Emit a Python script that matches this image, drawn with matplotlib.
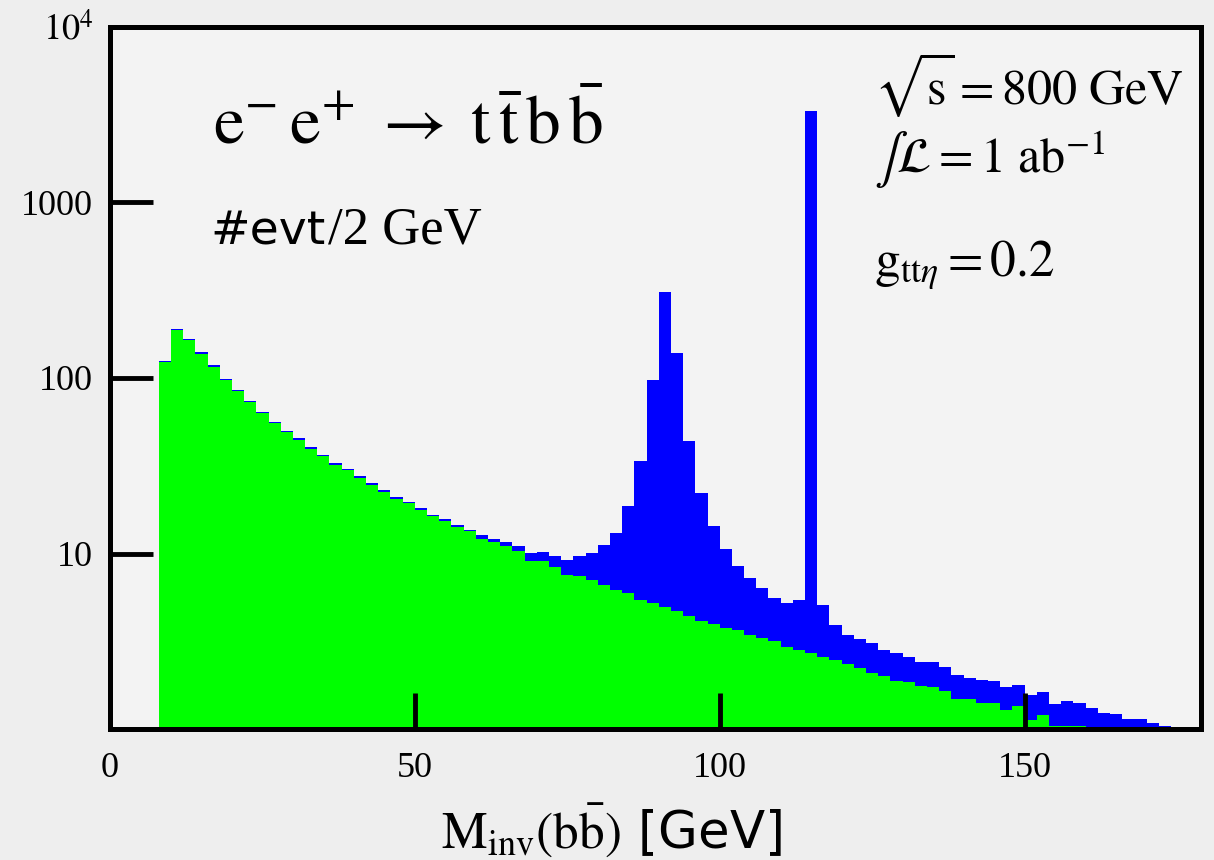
import matplotlib.pyplot as plt
import numpy as np

plt.rcParams['mathtext.fontset'] = 'stix'
plt.rcParams['font.family'] = ['Liberation Serif', 'DejaVu Serif']

# 2 GeV bins from 8 to 176 GeV
edges = np.arange(8, 178, 2)

# total (signal + background) events per bin
total = [125, 191, 167, 140, 118, 99, 85.5, 74.3, 64.4, 56.5, 50, 45.4, 40.4,
         36.5, 32.7, 30.4, 27.7, 25.2, 22.9, 20.9, 19.7, 18.2, 16.6, 15.7, 14.5, 13.7,
         12.7, 12.1, 11.6, 11.0, 10.1, 10.2, 9.65, 9.25, 9.75, 10.1,
         11.2, 13.1, 18.6, 33.8, 98, 309, 139, 44, 22, 14.3,
         10.6, 8.5, 7.3, 6.4, 5.6, 5.25, 5.45, 3330, 5.13, 3.9,
         3.43, 3.27, 3.08, 2.82, 2.73, 2.58, 2.43, 2.40, 2.26, 2.03,
         1.97, 1.92, 1.88, 1.75, 1.79, 1.56, 1.64, 1.39, 1.44, 1.42,
         1.32, 1.24, 1.22, 1.15, 1.14, 1.09, 1.05, 0.9]

# background only
bkg = [123, 188, 164, 137, 116, 97, 84, 73, 63, 55.5, 49, 44.5, 39.6,
       35.8, 32, 29.8, 27.1, 24.7, 22.4, 20.5, 19.3, 17.8, 16.3, 15.4, 14.2, 13.4,
       12.1, 11.6, 11.0, 10.3, 9.12, 9.04, 8.4, 7.6, 7.5, 7.1,
       6.67, 6.24, 5.98, 5.43, 5.25, 4.95, 4.70, 4.40, 4.16, 3.98,
       3.78, 3.66, 3.46, 3.32, 3.2, 2.94, 2.82, 2.73, 2.59, 2.48,
       2.34, 2.23, 2.10, 2.0, 1.88, 1.86, 1.77, 1.73, 1.65, 1.48,
       1.49, 1.41, 1.42, 1.28, 1.36, 1.135, 1.2, 1.04, 1.05, 1.05,
       0.8, 0.7, 0.6, 0.5, 0.45, 0.4, 0.35, 0.3]

xticks = [0, 50, 100, 150]
yticks = [10, 100, 1000, 10000]
ylabels = ['10', '100', '1000', r'$10^4$']

fig = plt.figure(figsize=(12.14, 8.6), dpi=100, facecolor='#eeeeee')
ax = fig.add_axes([0.0906, 0.152, 0.899, 0.817])
ax.set_facecolor('#f3f3f3')

ax.stairs(total, edges, baseline=0.1, fill=True, color='#0000ff')
ax.stairs(bkg, edges, baseline=0.1, fill=True, color='#00ff00')

ax.set_yscale('log')
ax.set_xlim(0, 179)
ax.set_ylim(1, 1e4)
ax.set_xticks(xticks)
ax.set_xticklabels([str(v) for v in xticks])
ax.set_yticks(yticks)
ax.set_yticklabels(ylabels)
ax.minorticks_off()
ax.tick_params(axis='y', direction='in', length=31, width=3.5, labelsize=26, pad=12)
ax.tick_params(axis='x', direction='in', length=26, width=3.5, labelsize=26, pad=16)
for sp in ax.spines.values():
    sp.set_linewidth(3.6)
    sp.set_zorder(5)

ax.text(0.094, 0.858,
        r'$\mathrm{e^{-}\,e^{+}}\;\rightarrow\;\mathrm{t\,\bar{t}\,b\,\bar{b}}$',
        transform=ax.transAxes, fontsize=50, va='center', ha='left')
t_evt = ax.text(0.092, 0.708, '#evt', family='DejaVu Sans',
                transform=ax.transAxes, fontsize=34, va='center', ha='left')
ax.annotate('/2 GeV', xy=(1, 0), xycoords=t_evt, xytext=(2, 0),
            textcoords='offset points', fontsize=38, va='bottom', ha='left')
ax.text(0.70, 0.918, r'$\sqrt{\mathrm{s}} = 800\ \mathrm{GeV}$',
        transform=ax.transAxes, fontsize=36, va='center', ha='left')
ax.text(0.70, 0.81, r'$\int\mathcal{L} = 1\ \mathrm{ab}^{-1}$',
        transform=ax.transAxes, fontsize=36, va='center', ha='left')
ax.text(0.70, 0.66, r'$\mathrm{g}_{\mathrm{tt}\eta} = 0.2$',
        transform=ax.transAxes, fontsize=37, va='center', ha='left')

fig.text(0.504, 0.035, r'$\mathrm{M}_{\mathrm{inv}}(\mathrm{b\bar{b}})$ [GeV]', fontsize=37,
         ha='center', va='center', family='DejaVu Sans')

fig.savefig('out.png', dpi=100, facecolor=fig.get_facecolor())
